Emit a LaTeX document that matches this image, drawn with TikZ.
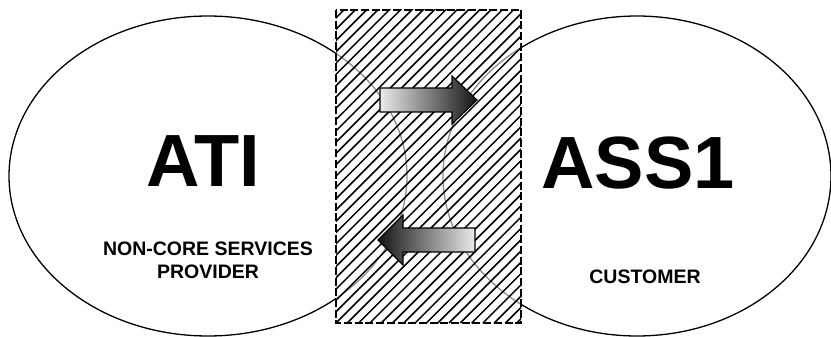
\documentclass[tikz,border=0pt]{standalone}
\usepackage{fontspec}
\setmainfont{Liberation Sans}
\begin{document}
\begin{tikzpicture}[x=1pt,y=-1pt,
  oval/.style={draw=black,line width=1.3pt},
  bigtxt/.style={font=\bfseries\fontsize{74}{74}\selectfont,inner sep=0pt,anchor=base},
  smalltxt/.style={font=\bfseries\fontsize{19.5}{23}\selectfont,inner sep=0pt,anchor=base,align=center},
  flowarrow/.style={draw=black,line width=1.1pt,line join=miter}]
\useasboundingbox (0,0) rectangle (831,337);
% ellipses
\draw[oval] (208,176) ellipse [x radius=199, y radius=160];
\draw[oval] (637,176) ellipse [x radius=194, y radius=160];
% hatched band
\fill[white,opacity=0.55] (336,10) rectangle (521,323);
\begin{scope}
  \clip (336,10) rectangle (521,323);
  \foreach \i in {-32,...,20}
    \draw[line width=1.5pt] (336+11.3*\i,323) -- ++(330,-330);
\end{scope}
\draw[line width=1.4pt,dash pattern=on 8pt off 2.7pt] (336,10) rectangle (521,323);
% arrows
\shadedraw[flowarrow,left color=white!92!black,right color=black!92]
  (380,88) -- (452,88) -- (452,76) -- (477,100) -- (452,124) -- (452,112) -- (380,112) -- cycle;
\shadedraw[flowarrow,left color=black!92,right color=white!92!black]
  (475,228) -- (403,228) -- (403,215) -- (378,240) -- (403,265) -- (403,252) -- (475,252) -- cycle;
% texts
\node[bigtxt] (ati) at (203,186) {ATI};
\node[bigtxt] (ass) at (638,188) {ASS1};
\node[smalltxt] (ncsp) at (208,278) {NON-CORE SERVICES\\PROVIDER};
\node[smalltxt] (cust) at (645,283) {CUSTOMER};
\end{tikzpicture}
\end{document}
